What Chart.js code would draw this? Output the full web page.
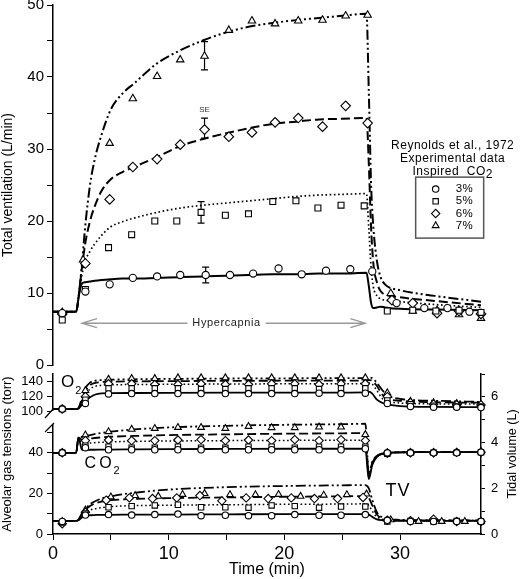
<!DOCTYPE html>
<html>
<head>
<meta charset="utf-8">
<title>Ventilation and alveolar gas tensions during hypercapnia</title>
<script src="https://cdn.jsdelivr.net/npm/chart.js@4.4.1/dist/chart.umd.min.js"></script>
<style>
  body { margin: 0; background: #fff; }
  #wrap { position: relative; width: 520px; height: 579px; overflow: hidden; background: #fff; }
  #wrap canvas { position: absolute; left: 0; }
  #topChart { top: -3px; }
  #botChart { top: 366px; }
</style>
</head>
<body>
<div id="wrap">
  <canvas id="topChart" width="520" height="376"></canvas>
  <canvas id="botChart" width="520" height="213"></canvas>
</div>
<script>
// ---------- top panel: total ventilation (L/min) ----------
var tModel = [0, 2.0, 2.25, 2.5, 2.8, 3.2, 3.6, 4.2, 5, 6, 7, 9, 11, 13, 15, 17, 19, 21, 23, 25,
              27.1, 27.3, 27.5, 27.7, 28.0, 28.3, 28.7, 30, 33, 37];
var ve3 = [7.4, 7.4, 9.8, 11.3, 11.5, 11.6, 11.7, 11.8, 11.9, 12.0, 12.0, 12.1, 12.2, 12.3, 12.4, 12.5, 12.6, 12.6, 12.7, 12.7,
           12.8, 11.0, 8.6, 7.9, 8.0, 8.1, 8.0, 7.8, 7.7, 7.6];
var ve5 = [7.4, 7.4, 9.8, 12.5, 14.5, 15.8, 16.8, 18.0, 19.2, 19.9, 20.4, 21.2, 21.8, 22.2, 22.5, 22.8, 23.1, 23.4, 23.6, 23.7,
           23.8, 19.0, 13.5, 10.8, 9.6, 9.2, 9.0, 8.8, 8.4, 8.0];
var ve6 = [7.4, 7.4, 10, 13.5, 17, 20, 22, 24.2, 25.8, 26.8, 27.5, 28.9, 30.4, 31.4, 32.2, 32.9, 33.5, 33.8, 34.1, 34.2,
           34.3, 28, 19, 14, 11.5, 10.3, 9.8, 9.4, 8.9, 8.3];
var ve7 = [7.4, 7.4, 10, 14, 19.5, 25, 28.5, 32, 35.5, 37.7, 39.1, 41.9, 43.7, 45.1, 46.2, 47.0, 47.5, 47.9, 48.2, 48.5,
           48.8, 38, 25, 19, 14.5, 12.3, 11.2, 10.4, 9.6, 8.8];

// experimental data (Reynolds et al., 1972)
var tVc = [0.8, 2.8, 4.9, 6.9, 9.0, 11.0, 13.2, 15.3, 17.3, 19.5, 21.5, 23.6, 25.7, 27.6, 29.7, 32.1, 34.1, 36.0];
var veC = [7.2, 10.2, 11.2, 12.1, 12.3, 12.5, 12.5, 12.5, 12.7, 13.4, 12.6, 13.1, 13.3, 13.0, 8.6, 7.9, 7.9, 7.4];
var tVs = [0.8, 2.8, 4.8, 6.8, 8.8, 10.7, 12.8, 14.9, 16.9, 19.0, 21.0, 22.9, 24.9, 26.9, 28.9, 31.1, 33.1, 35.1, 37.0];
var veS = [6.25, 10.5, 16.3, 18.1, 20.0, 20.0, 21.2, 20.8, 21.0, 22.7, 22.8, 21.8, 22.2, 22.1, 7.5, 7.6, 7.5, 7.6, 7.3];
var tVd = [0.8, 2.8, 4.9, 6.9, 9.0, 11.0, 13.1, 15.2, 17.2, 19.2, 21.2, 23.3, 25.3, 27.2, 29.3, 31.1, 33.2, 35.1, 37.0];
var veD = [7.1, 14.1, 23.0, 27.5, 28.6, 30.6, 32.7, 31.7, 32.3, 33.7, 34.3, 33.1, 36.0, 33.6, 9.0, 8.6, 7.2, 7.5, 7.1];
var tVt = [0.8, 2.6, 4.9, 6.9, 9.0, 11.0, 13.1, 15.2, 17.2, 19.2, 21.2, 23.3, 25.3, 27.2, 29.2, 31.1, 33.2, 35.1, 37.0];
var veT = [7.3, 14.6, 30.8, 37.0, 40.1, 42.4, 42.9, 46.5, 47.8, 47.4, 47.8, 47.9, 48.5, 48.6, 9.95, 7.5, 7.6, 7.0, 6.5];

// SE bars (3%, 5%, 6%, 7%)
var errT = [13.2, 12.8, 13.1, 13.1];
var errLo = [11.4, 19.7, 31.5, 41.0];
var errHi = [13.6, 22.7, 34.3, 44.9];

var hyperSpan = [2.5, 27.0];   // min
var hyperLevel = 5.8;          // L/min
var hyperTextAt = 15.0;
var seAt = [13.1, 35.4];
var legendAt = [34.55, 30.4];
var legendLabels = ['3%', '5%', '6%', '7%'];

// ---------- bottom panel: alveolar gas tensions (torr) and tidal volume (L) ----------
var tGasModel = [0, 2.0, 2.2, 2.5, 2.8, 3.2, 3.6, 4.2, 5, 7, 10, 15, 20, 25, 27.0, 27.3, 27.6, 28.0, 28.5, 29, 30, 31, 33, 37];
var po2_3 = [103.5, 103.5, 104, 109, 114, 119, 122.5, 124.3, 124.6, 124.8, 125, 125.2, 125.3, 125.4, 125.5, 126.5, 124, 116, 111.5, 109.5, 107.5, 106.8, 106.4, 106];
var po2_5 = [103.5, 103.5, 104, 112, 122, 130, 133.5, 135, 135.6, 136, 136.3, 136.7, 137, 137.2, 137.3, 138, 136.5, 128, 117, 113.5, 111.5, 110.8, 110.3, 110];
var po2_6 = [103.5, 103.5, 104.5, 115, 127, 135, 138, 139.3, 139.8, 140.2, 140.5, 140.9, 141.1, 141.3, 141.4, 142, 141, 134, 122, 117, 114.5, 113.5, 112.5, 112];
var po2_7 = [103.5, 103.5, 105, 118, 131, 138.5, 141, 142, 142.5, 143, 143.5, 144, 144.3, 144.5, 144.6, 145.2, 144.5, 138, 128, 121, 117, 115.5, 114.5, 113];
var pco2_3 = [40, 40, 47.5, 41.5, 41.4, 41.5, 41.5, 41.6, 41.6, 41.7, 41.8, 41.9, 42, 42, 42, 27, 34, 38, 39.5, 40, 40.2, 40.3, 40.3, 40.3];
var pco2_5 = [40, 40, 47.5, 44, 44.5, 44.8, 45, 45.2, 45.4, 45.6, 45.8, 46, 46.1, 46.2, 46.2, 28, 34.5, 38, 39.5, 40, 40.2, 40.3, 40.3, 40.3];
var pco2_6 = [40, 40, 47.5, 46.5, 46.8, 47, 47.3, 47.6, 47.9, 48.3, 48.7, 49.1, 49.4, 49.6, 49.7, 29, 35, 38.3, 39.6, 40, 40.2, 40.3, 40.3, 40.3];
var pco2_7 = [40, 40, 47.5, 47.8, 48.2, 48.7, 49.2, 49.8, 50.4, 51.5, 52.5, 53.3, 53.8, 54.1, 54.3, 30, 35.5, 38.5, 39.7, 40, 40.2, 40.3, 40.3, 40.3];
var vt3 = [0.57, 0.57, 0.6, 0.72, 0.8, 0.82, 0.83, 0.84, 0.84, 0.85, 0.85, 0.86, 0.87, 0.87, 0.87, 0.85, 0.75, 0.64, 0.6, 0.58, 0.57, 0.57, 0.57, 0.57];
var vt5 = [0.57, 0.57, 0.62, 0.8, 0.95, 1.05, 1.1, 1.15, 1.2, 1.24, 1.26, 1.28, 1.3, 1.31, 1.32, 1.25, 1.0, 0.75, 0.64, 0.61, 0.59, 0.58, 0.58, 0.58];
var vt6 = [0.57, 0.57, 0.62, 0.85, 1.05, 1.22, 1.33, 1.42, 1.48, 1.53, 1.57, 1.6, 1.63, 1.65, 1.66, 1.58, 1.25, 0.85, 0.68, 0.63, 0.6, 0.59, 0.59, 0.59];
var vt7 = [0.57, 0.57, 0.63, 0.9, 1.1, 1.3, 1.42, 1.55, 1.65, 1.8, 1.94, 2.05, 2.1, 2.13, 2.14, 2.0, 1.5, 0.95, 0.72, 0.65, 0.62, 0.61, 0.6, 0.6];

var tGas = [0.8, 2.8, 4.8, 6.8, 8.8, 10.8, 12.8, 14.9, 16.9, 18.9, 20.9, 23.0, 24.9, 27.0, 28.9, 30.9, 32.9, 34.9, 37.0];
var o2C = [103.5, 111, 123.6, 124, 124, 124, 124, 124, 124, 124, 124, 124.5, 124, 124.5, 111, 107, 106, 106, 105.5];
var o2S = [103.5, 116, 131, 131, 131, 131, 130, 130, 131, 131, 131, 130, 131, 131, 115, 110, 108, 107, 107];
var o2D = [103.5, 120, 137, 137, 136, 136, 137, 136, 136, 137, 137, 136, 137, 137, 120, 112, 110, 109, 109];
var o2T = [103.5, 128, 143, 144, 144, 145, 145, 145, 145, 145, 145, 145, 145, 145, 125, 114, 112, 111, 110];
var co2C = [40, 42.5, 41.5, 41.5, 41.5, 41.5, 41.5, 41.5, 41.5, 41.5, 41.5, 41.5, 41.5, 42, 40, 40, 40, 40, 40.3];
var co2S = [40, 43.5, 43, 42.5, 42.5, 43, 42.5, 42.5, 43, 43, 42.5, 43, 43, 43, 39.5, 40, 40, 40, 40.3];
var co2D = [40, 46, 46.3, 46, 46, 46.3, 46.5, 46, 46.3, 46, 46.5, 46, 46.5, 46, 39.8, 40, 40, 40.2, 40.3];
var co2T = [40, 48.8, 50.4, 51.6, 52, 52.5, 52.5, 52, 53, 52.4, 52.4, 52.7, 52.7, 49, 40, 40.2, 40.2, 40.2, 40.5];
var tTVd = [0.8, 2.8, 4.6, 6.6, 8.6, 10.7, 12.7, 14.6, 16.7, 18.6, 20.6, 22.6, 24.6, 26.8, 28.9, 30.9, 32.9, 34.9, 37.0];
var tTVt = [0.8, 2.8, 5.0, 7.1, 9.1, 11.2, 13.1, 15.3, 17.5, 19.5, 21.4, 23.4, 25.4, 27.1, 29.2, 31.6, 33.6, 35.6, 37.0];
var vtC = [0.55, 0.83, 0.85, 0.83, 0.85, 0.87, 0.8, 0.82, 0.8, 0.8, 0.85, 0.82, 0.82, 0.85, 0.6, 0.55, 0.55, 0.55, 0.55];
var vtS = [0.5, 0.9, 1.17, 1.22, 1.25, 1.28, 1.17, 1.17, 1.15, 1.25, 1.22, 1.15, 1.2, 1.2, 0.55, 0.57, 0.55, 0.57, 0.55];
var vtD = [0.45, 0.95, 1.48, 1.58, 1.55, 1.58, 1.68, 1.45, 1.58, 1.55, 1.58, 1.55, 1.55, 1.6, 0.6, 0.58, 0.65, 0.55, 0.55];
var vtT = [0.55, 1.05, 1.62, 1.68, 1.65, 1.73, 1.77, 1.72, 1.72, 1.73, 1.65, 1.7, 1.72, 1.75, 0.62, 0.55, 0.55, 0.55, 0.55];

var o2Label = [0.69, 138.7];
var co2Label = [2.73, 34.5];
var tvLabel = [28.75, 1.89];

// ---------- styling ----------
var FONT = '"Liberation Sans", Arial, sans-serif';
Chart.defaults.font.family = FONT;
Chart.defaults.color = '#000';

var shapes = ['circle', 'rect', 'rectRot', 'triangle'];
var topSize = [3.6, 4.2, 4.8, 4.3];
var botSize = [3.2, 3.8, 4.2, 3.9];
var dashes = [[], [1.6, 2.6], [9, 4], [10, 3, 2, 3, 2, 3]];

function pts(xs, ys) {
    return xs.map(function (x, i) { return { x: x, y: ys[i] }; });
}
function lineSet(xs, ys, k, axis, w) {
    return {
        data: pts(xs, ys), yAxisID: axis,
        borderColor: '#000', borderWidth: w, borderDash: dashes[k], borderCapStyle: 'butt',
        pointRadius: 0, fill: false, cubicInterpolationMode: 'monotone'
    };
}
function markSet(xs, ys, k, axis, r) {
    return {
        data: pts(xs, ys), yAxisID: axis, showLine: false,
        pointStyle: shapes[k], pointRadius: r,
        pointBorderColor: '#000', pointBackgroundColor: '#fff', pointBorderWidth: 1.1,
        clip: false
    };
}
function keepStep(step, lo) {
    return function (s) {
        s.ticks = s.ticks.filter(function (t) {
            return Math.abs(t.value / step - Math.round(t.value / step)) < 1e-6 && (lo === undefined || t.value >= lo);
        });
    };
}
function yAxisBase(size, pad) {
    return {
        grid: { drawOnChartArea: false, color: '#000', tickLength: 6, lineWidth: 1 },
        border: { color: '#000', width: 1.5 },
        ticks: { font: { size: size, lineHeight: 0.25 }, padding: pad, color: '#000' }
    };
}
function vText(ctx, text, x, y, font) {
    ctx.save();
    ctx.font = font;
    ctx.fillStyle = '#000';
    ctx.textAlign = 'center';
    ctx.textBaseline = 'middle';
    ctx.translate(x, y);
    ctx.rotate(-Math.PI / 2);
    ctx.fillText(text, 0, 0);
    ctx.restore();
}

// ---------- top chart ----------
var topDeco = {
    id: 'topDeco',
    beforeDatasetsDraw: function (chart) {
        var ctx = chart.ctx, xs = chart.scales.x, ys = chart.scales.y;
        ctx.save();
        ctx.strokeStyle = '#000';
        ctx.lineWidth = 1.2;
        for (var i = 0; i < errT.length; i++) {
            var x = xs.getPixelForValue(errT[i]);
            var y1 = ys.getPixelForValue(errLo[i]), y2 = ys.getPixelForValue(errHi[i]);
            ctx.beginPath();
            ctx.moveTo(x, y1); ctx.lineTo(x, y2);
            ctx.moveTo(x - 3.5, y1); ctx.lineTo(x + 3.5, y1);
            ctx.moveTo(x - 3.5, y2); ctx.lineTo(x + 3.5, y2);
            ctx.stroke();
        }
        ctx.restore();
    },
    afterDatasetsDraw: function (chart) {
        var ctx = chart.ctx, xs = chart.scales.x, ys = chart.scales.y;
        ctx.save();
        ctx.textBaseline = 'middle';

        // SE
        ctx.font = '8px ' + FONT;
        ctx.fillStyle = '#333';
        ctx.textAlign = 'center';
        ctx.fillText('SE', xs.getPixelForValue(seAt[0]), ys.getPixelForValue(seAt[1]));

        // Hypercapnia arrow
        var x0 = xs.getPixelForValue(hyperSpan[0]), x1 = xs.getPixelForValue(hyperSpan[1]);
        var ya = ys.getPixelForValue(hyperLevel), xm = xs.getPixelForValue(hyperTextAt);
        ctx.font = '11px ' + FONT;
        ctx.letterSpacing = '0.6px';
        var w = ctx.measureText('Hypercapnia').width;
        ctx.fillStyle = '#222';
        ctx.fillText('Hypercapnia', xm, ya);
        ctx.strokeStyle = '#999';
        ctx.lineWidth = 1.3;
        ctx.beginPath();
        ctx.moveTo(x0, ya); ctx.lineTo(xm - w / 2 - 5, ya);
        ctx.moveTo(xm + w / 2 + 5, ya); ctx.lineTo(x1, ya);
        ctx.moveTo(x0 + 15, ya - 4.5); ctx.lineTo(x0, ya); ctx.lineTo(x0 + 15, ya + 4.5);
        ctx.moveTo(x1 - 15, ya - 4.5); ctx.lineTo(x1, ya); ctx.lineTo(x1 - 15, ya + 4.5);
        ctx.stroke();

        // legend
        var lx = xs.getPixelForValue(legendAt[0]), ly = ys.getPixelForValue(legendAt[1]);
        ctx.font = '12px ' + FONT;
        ctx.letterSpacing = '0.5px';
        ctx.fillStyle = '#000';
        ctx.fillText('Reynolds et al., 1972', lx, ly);
        ctx.fillText('Experimental data', lx, ly + 13);
        var s1 = 'Inspired  CO', w1 = ctx.measureText(s1).width, w2 = ctx.measureText('2').width;
        var sx = lx - (w1 + w2) / 2;
        ctx.textAlign = 'left';
        ctx.fillText(s1, sx, ly + 26);
        ctx.fillText('2', sx + w1, ly + 29);
        ctx.strokeStyle = '#555';
        ctx.lineWidth = 1.5;
        ctx.strokeRect(lx - 37, ly + 31, 68, 61);
        ctx.font = '11.5px ' + FONT;
        for (var k = 0; k < 4; k++) {
            var yy = ly + 43 + k * 12.2;
            ctx.fillStyle = '#fff';
            ctx.strokeStyle = '#000';
            ctx.lineWidth = 1.1;
            Chart.helpers.drawPoint(ctx, { pointStyle: shapes[k], radius: botSize[k], borderWidth: 1.1, rotation: 0 }, lx - 17, yy);
            ctx.fillStyle = '#000';
            ctx.fillText(legendLabels[k], lx + 3, yy);
        }
        ctx.restore();
    }
};

var topY = yAxisBase(15, 3);
topY.min = 0; topY.max = 50;
topY.ticks.stepSize = 5;
topY.ticks.callback = function (v) { return v % 10 === 0 ? v : ''; };
topY.title = { display: true, text: 'Total ventilation (L/min)', font: { size: 14 }, padding: 0, color: '#000' };
topY.afterFit = function (s) { s.width = 53; };

var topChart = new Chart(document.getElementById('topChart'), {
    type: 'line',
    data: {
        datasets: [
            markSet(tVc, veC, 0, 'y', topSize[0]),
            markSet(tVs, veS, 1, 'y', topSize[1]),
            markSet(tVd, veD, 2, 'y', topSize[2]),
            markSet(tVt, veT, 3, 'y', topSize[3]),
            lineSet(tModel, ve3, 0, 'y', 2),
            lineSet(tModel, ve5, 1, 'y', 1.7),
            lineSet(tModel, ve6, 2, 'y', 2),
            lineSet(tModel, ve7, 3, 'y', 2)
        ]
    },
    options: {
        responsive: false,
        animation: false,
        events: [],
        layout: { padding: { top: 8, bottom: 8, left: 0, right: 39 } },
        plugins: { legend: { display: false }, tooltip: { enabled: false } },
        scales: {
            x: { type: 'linear', min: 0, max: 37, display: false },
            y: topY
        }
    },
    plugins: [topDeco]
});

// ---------- bottom chart ----------
var botDeco = {
    id: 'botDeco',
    afterDraw: function (chart) {
        var ctx = chart.ctx, xs = chart.scales.x, yl = chart.scales.yLow, yo = chart.scales.yO2, yt = chart.scales.yTV;
        var ca = chart.chartArea;
        ctx.save();
        // axis break
        var xb = ca.left, yb = yl.top;
        ctx.fillStyle = '#fff';
        ctx.fillRect(xb - 1.8, yb - 8, 4, 13);
        ctx.strokeStyle = '#000';
        ctx.lineWidth = 1.2;
        ctx.beginPath();
        ctx.moveTo(xb - 8, yb - 1); ctx.lineTo(xb + 1, yb - 11);
        ctx.moveTo(xb - 8, yb + 13); ctx.lineTo(xb + 1, yb + 4);
        ctx.stroke();

        ctx.fillStyle = '#000';
        ctx.textBaseline = 'middle';
        ctx.textAlign = 'left';
        // O2
        var ox = xs.getPixelForValue(o2Label[0]), oy = yo.getPixelForValue(o2Label[1]);
        ctx.font = '17px ' + FONT;
        ctx.fillText('O', ox, oy);
        var ow = ctx.measureText('O').width;
        ctx.font = '11px ' + FONT;
        ctx.fillText('2', ox + ow + 1, oy + 8);
        // CO2
        var cx = xs.getPixelForValue(co2Label[0]), cy = yl.getPixelForValue(co2Label[1]);
        ctx.font = '16px ' + FONT;
        ctx.letterSpacing = '3px';
        ctx.fillText('CO', cx, cy);
        var cw = ctx.measureText('CO').width;
        ctx.letterSpacing = '0px';
        ctx.font = '11px ' + FONT;
        ctx.fillText('2', cx + cw - 1, cy + 7);
        // TV
        ctx.font = '18px ' + FONT;
        ctx.letterSpacing = '1px';
        ctx.fillText('TV', xs.getPixelForValue(tvLabel[0]), yt.getPixelForValue(tvLabel[1]));
        ctx.letterSpacing = '0px';
        ctx.restore();
        // axis titles
        var midY = (ca.top + ca.bottom) / 2;
        vText(ctx, 'Alveolar gas tensions (torr)', 7.8, midY, '13px ' + FONT);
        vText(ctx, 'Tidal volume (L)', yt.right - 7.5, midY, '12.5px ' + FONT);
    }
};

var yLow = yAxisBase(13, 4);
yLow.position = 'left'; yLow.stack = 'gas'; yLow.stackWeight = 115;
yLow.min = 0; yLow.max = 56.65;
yLow.ticks.stepSize = 10;
yLow.ticks.callback = function (v) { return v % 20 === 0 ? v : ''; };
yLow.afterBuildTicks = keepStep(10);
yLow.afterFit = function (s) { s.width = 53; };

var yO2 = yAxisBase(13, 4);
yO2.position = 'left'; yO2.stack = 'gas'; yO2.stackWeight = 45;
yO2.min = 90.3; yO2.max = 150;
yO2.ticks.stepSize = 10;
yO2.ticks.callback = function (v) { return v % 20 === 0 ? v : ''; };
yO2.afterBuildTicks = keepStep(10, 100);
yO2.afterFit = function (s) { s.width = 53; };

var yTV = yAxisBase(13, 6);
yTV.position = 'right';
yTV.min = 0; yTV.max = 7;
yTV.grid.tickLength = 4;
yTV.ticks.stepSize = 1;
yTV.ticks.callback = function (v) { return v % 2 === 0 ? v : ''; };
yTV.afterFit = function (s) { s.width = 39; };

var botSets = [];
[[o2C, o2S, o2D, o2T, 'yO2'], [co2C, co2S, co2D, co2T, 'yLow']].forEach(function (g) {
    for (var k = 0; k < 4; k++) botSets.push(markSet(tGas, g[k], k, g[4], botSize[k]));
});
botSets.push(markSet(tGas, vtC, 0, 'yTV', botSize[0]));
botSets.push(markSet(tGas, vtS, 1, 'yTV', botSize[1]));
botSets.push(markSet(tTVd, vtD, 2, 'yTV', botSize[2]));
botSets.push(markSet(tTVt, vtT, 3, 'yTV', botSize[3]));
[[po2_3, po2_5, po2_6, po2_7, 'yO2'], [pco2_3, pco2_5, pco2_6, pco2_7, 'yLow'], [vt3, vt5, vt6, vt7, 'yTV']].forEach(function (g) {
    for (var k = 0; k < 4; k++) botSets.push(lineSet(tGasModel, g[k], k, g[4], k === 1 ? 1.5 : 1.8));
});

var botChart = new Chart(document.getElementById('botChart'), {
    type: 'line',
    data: { datasets: botSets },
    options: {
        responsive: false,
        animation: false,
        events: [],
        layout: { padding: { top: 8, bottom: 0, left: 0, right: 0 } },
        plugins: { legend: { display: false }, tooltip: { enabled: false } },
        scales: {
            x: {
                type: 'linear', min: 0, max: 37,
                afterBuildTicks: keepStep(5),
                afterFit: function (s) { s.height = 45; },
                grid: { drawOnChartArea: false, color: '#000', tickLength: 6 },
                border: { color: '#000', width: 1.5 },
                ticks: {
                    stepSize: 5, autoSkip: false, maxRotation: 0, padding: 3, color: '#000',
                    font: { size: 18 },
                    callback: function (v) { return v % 10 === 0 ? v : ''; }
                },
                title: { display: true, text: 'Time (min)', font: { size: 16 }, padding: 0, color: '#000' }
            },
            yLow: yLow,
            yO2: yO2,
            yTV: yTV
        }
    },
    plugins: [botDeco]
});
</script>
</body>
</html>
